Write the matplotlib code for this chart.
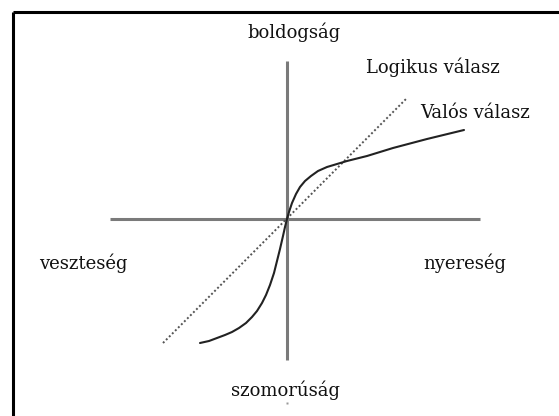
import matplotlib
matplotlib.use('Agg')
import matplotlib.pyplot as plt

# Values, in pixels relative to the origin (x right, y up)
axis_x_span = [-177, 193]
axis_y_span = [-141, 158]

# "Logikus válasz" - straight dotted line
logical_x = [-124, 120]
logical_y = [-124, 121]

# "Valós válasz" - S-shaped curve
real_x = [-87, -78, -70, -62, -55, -48, -41, -35, -30, -25, -21, -17, -13, -10, -7, -4, -2, 0,
          2, 5, 9, 13, 18, 24, 31, 40, 50, 60, 80, 106, 140, 177]
real_y = [-124, -122, -119, -116, -113, -109, -104, -98, -92, -84, -76, -66, -54, -42, -30, -17, -8, 0,
          7, 16, 25, 32, 38, 43, 48, 52, 55, 58, 63, 71, 80, 89]

labels = ['boldogság', 'szomorúság', 'veszteség', 'nyereség', 'Logikus válasz', 'Valós válasz']
label_pos = [(7, 187), (-1, -171), (-204, -44), (178, -44), (146, 152), (188, 106)]

fig = plt.figure(figsize=(5.59, 4.16), dpi=100)
ax = fig.add_axes([0, 0, 1, 1])
ax.set_xlim(-287, 559 - 287)
ax.set_ylim(219 - 416, 219)
ax.axis('off')

# frame (only top and left edges are visible)
fig.add_artist(plt.Line2D([0.0235, 0.0235], [0, 0.971], color='black', lw=2.2,
                          solid_capstyle='butt', transform=fig.transFigure))
fig.add_artist(plt.Line2D([0.0235, 1], [0.971, 0.971], color='black', lw=2.2,
                          solid_capstyle='butt', transform=fig.transFigure))

# axes cross
ax.plot(axis_x_span, [0, 0], color='#7a7a7a', lw=2.2, solid_capstyle='butt')
ax.plot([0, 0], axis_y_span, color='#7a7a7a', lw=2.2, solid_capstyle='butt')

ax.plot(logical_x, logical_y, color='#555555', lw=1.4, linestyle=(0, (1, 1.2)))
ax.plot(real_x, real_y, color='#222222', lw=1.5, solid_capstyle='round',
        solid_joinstyle='round')

# small stray mark below the bottom label
ax.plot([0], [-184], marker='s', ms=1.5, color='#999999', mec='none')

for text, (tx, ty) in zip(labels, label_pos):
    ax.text(tx, ty, text, ha='center', va='center', fontsize=13,
            family='DejaVu Serif', color='#111111')

fig.savefig('out.png', dpi=100)
